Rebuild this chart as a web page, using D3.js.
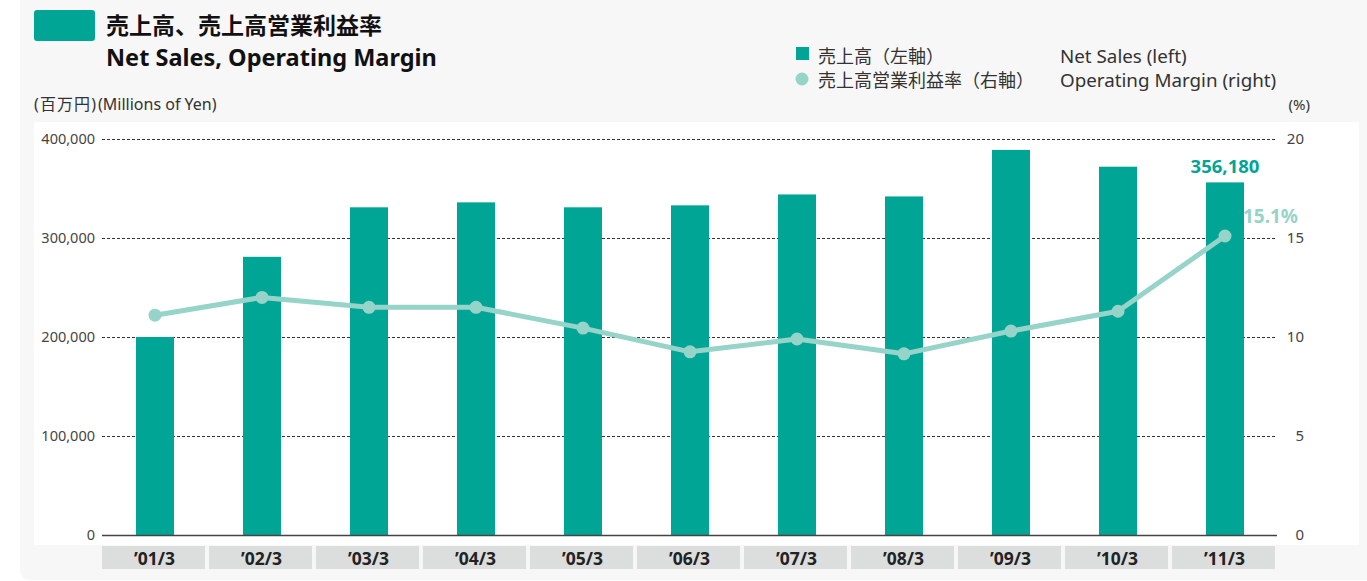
<!DOCTYPE html>
<html>
<head>
<meta charset="utf-8">
<script src="https://cdn.jsdelivr.net/npm/d3@7"></script>
<style>
  body { margin: 0; background: #fff; }
  svg { display: block; font-family: "Noto Sans", "Noto Sans CJK JP", sans-serif; }
</style>
</head>
<body>
<script>
// data
const years = ["’01/3", "’02/3", "’03/3", "’04/3", "’05/3", "’06/3", "’07/3", "’08/3", "’09/3", "’10/3", "’11/3"];
const netSales = [200000, 281000, 331000, 336000, 331000, 333000, 344000, 342000, 389000, 372000, 356180];
const margin = [11.1, 12.0, 11.5, 11.5, 10.45, 9.25, 9.9, 9.15, 10.3, 11.3, 15.1];
const salesTicks = [0, 100000, 200000, 300000, 400000];
const marginTicks = [0, 5, 10, 15, 20];

const W = 1367, H = 581;
const teal = "#00a596", light = "#96d3c9";

const svg = d3.select("body").append("svg").attr("width", W).attr("height", H);

// panel + plot background
svg.append("rect").attr("x", 20).attr("y", -10).attr("width", 1400).attr("height", 590)
  .attr("rx", 9).attr("fill", "#f7f7f7");
svg.append("rect").attr("x", 34).attr("y", 122).attr("width", 1325).attr("height", 423).attr("fill", "#fff");

// title
svg.append("rect").attr("x", 34).attr("y", 10).attr("width", 61).attr("height", 31).attr("rx", 3).attr("fill", teal);
svg.append("text").attr("x", 106).attr("y", 34).attr("font-size", 23).attr("font-weight", 700)
  .attr("fill", "#111").attr("font-family", "Noto Sans CJK JP").text("売上高、売上高営業利益率");
svg.append("text").attr("x", 106).attr("y", 66).attr("font-size", 23.5).attr("font-weight", 700)
  .attr("fill", "#111").text("Net Sales, Operating Margin");

// unit labels
svg.append("text").attr("x", 34).attr("y", 110).attr("font-size", 16).attr("fill", "#333")
  .attr("textLength", 62).text("(百万円)");
svg.append("text").attr("x", 98).attr("y", 110).attr("font-size", 16).attr("fill", "#333")
  .text("(Millions of Yen)");
svg.append("text").attr("x", 1310).attr("y", 110).attr("font-size", 15).attr("fill", "#333")
  .attr("text-anchor", "end").text("(%)");

// legend
const lg = svg.append("g").attr("fill", "#333");
lg.append("rect").attr("x", 796).attr("y", 47).attr("width", 13).attr("height", 13).attr("fill", teal);
lg.append("circle").attr("cx", 802).attr("cy", 79).attr("r", 6.5).attr("fill", light);
lg.append("text").attr("x", 818).attr("y", 63).attr("font-size", 18).attr("fill", "#333").text("売上高（左軸）");
lg.append("text").attr("x", 818).attr("y", 87).attr("font-size", 18).attr("fill", "#333").text("売上高営業利益率（右軸）");
lg.append("text").attr("x", 1060).attr("y", 63).attr("font-size", 18.8).attr("fill", "#333").text("Net Sales (left)");
lg.append("text").attr("x", 1060).attr("y", 87).attr("font-size", 18.8).attr("fill", "#333").text("Operating Margin (right)");

// scales
const x = d3.scaleBand().domain(years).range([102, 1279]).paddingInner(0).paddingOuter(0);
const y = d3.scaleLinear().domain([0, 400000]).range([535, 139]);
const y2 = d3.scaleLinear().domain([0, 20]).range([535, 139]);
const cx = d => x(d) + x.bandwidth() / 2 - 0.5;

// gridlines
svg.append("g").selectAll("line").data(salesTicks.filter(d => d > 0)).join("line")
  .attr("x1", 102).attr("x2", 1275).attr("y1", d => y(d) + 0.5).attr("y2", d => y(d) + 0.5)
  .attr("stroke", "#333").attr("stroke-width", 1).attr("stroke-dasharray", "3,2");

// left axis
const yAxis = d3.axisLeft(y).tickValues(salesTicks).tickSize(0).tickPadding(0)
  .tickFormat(d3.format(","));
svg.append("g").attr("transform", "translate(95,0)").call(yAxis)
  .call(g => g.select(".domain").remove())
  .call(g => g.selectAll("text").attr("font-size", 14.5).attr("fill", "#444").attr("font-family", "Noto Sans"));

// right axis
const y2Axis = d3.axisRight(y2).tickValues(marginTicks).tickSize(0).tickPadding(0);
svg.append("g").attr("transform", "translate(1304,0)").call(y2Axis)
  .call(g => g.select(".domain").remove())
  .call(g => g.selectAll("text").attr("text-anchor", "end").attr("font-size", 15).attr("fill", "#444").attr("font-family", "Noto Sans"));

// x label boxes
const xl = svg.append("g").selectAll("g").data(years).join("g")
  .attr("transform", d => `translate(${x(d)},0)`);
xl.append("rect").attr("x", 0).attr("y", 546).attr("width", x.bandwidth() - 4).attr("height", 23).attr("fill", "#dcdddd");
xl.append("text").attr("x", (x.bandwidth() - 4) / 2 + 1).attr("y", 565).attr("text-anchor", "middle")
  .attr("font-size", 17.5).attr("font-weight", 700).attr("fill", "#222").text(d => d);

// bars
const bw = 38;
svg.append("g").selectAll("rect").data(years).join("rect")
  .attr("x", d => cx(d) - bw / 2)
  .attr("y", (d, i) => y(netSales[i]))
  .attr("width", bw)
  .attr("height", (d, i) => y(0) - y(netSales[i]))
  .attr("fill", teal);

// baseline
svg.append("line").attr("x1", 102).attr("x2", 1277).attr("y1", 535.5).attr("y2", 535.5)
  .attr("stroke", "#444").attr("stroke-width", 1.5);

// margin line
const line = d3.line().x((d, i) => cx(years[i])).y(d => y2(d));
svg.append("path").datum(margin).attr("d", line).attr("fill", "none")
  .attr("stroke", light).attr("stroke-width", 5).attr("stroke-linejoin", "round");
svg.append("g").selectAll("circle").data(margin).join("circle")
  .attr("cx", (d, i) => cx(years[i])).attr("cy", d => y2(d)).attr("r", 6.5).attr("fill", light);

// annotations for last year
const last = years.length - 1;
svg.append("text").attr("x", cx(years[last])).attr("y", y(netSales[last]) - 9)
  .attr("text-anchor", "middle").attr("font-size", 18.5).attr("font-weight", 700).attr("fill", teal)
  .text(d3.format(",")(netSales[last]));
svg.append("text").attr("x", 1298).attr("y", y2(margin[last]) - 13)
  .attr("text-anchor", "end").attr("font-size", 19).attr("font-weight", 700).attr("fill", light)
  .text(margin[last].toFixed(1) + "%");
</script>
</body>
</html>
